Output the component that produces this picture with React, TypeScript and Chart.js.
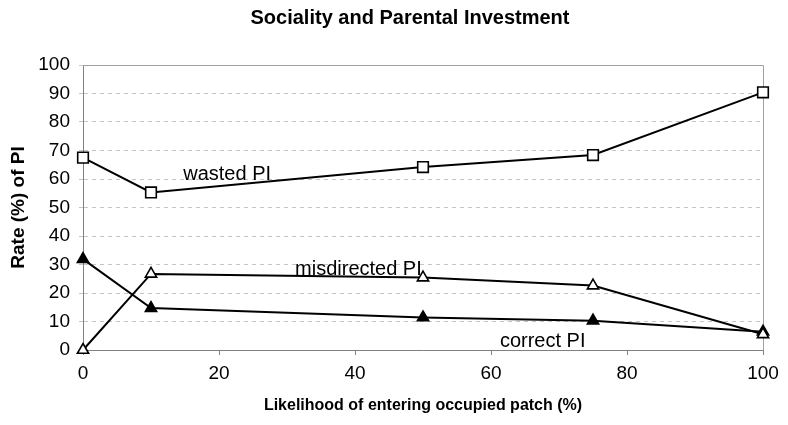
import React, { useEffect, useRef } from "react";
import { Chart, registerables } from "chart.js";

Chart.register(...registerables);

const likelihood = [0, 10, 50, 75, 100];
const wastedPI = [67.5, 55.3, 64.2, 68.4, 90.4];
const misdirectedPI = [0, 26.7, 25.4, 22.6, 5.5];
const correctPI = [31.9, 14.7, 11.4, 10.3, 6.4];

const seriesLabels = ["wasted PI", "misdirected PI", "correct PI"];
// label anchor in data units (x, y) — text baseline centre
const labelX = [21.2, 40.5, 67.6];
const labelY = [59.7, 26.4, 0.9];

const chartTitle = "Sociality and Parental Investment";
const xTitle = "Likelihood of entering occupied patch (%)";
const yTitle = "Rate (%) of PI";

const FONT = '"Liberation Sans", Arial, sans-serif';

function pts(ys: number[]) {
  return likelihood.map((x, i) => ({ x, y: ys[i] }));
}

export default function App() {
  const ref = useRef<HTMLCanvasElement | null>(null);

  useEffect(() => {
    if (!ref.current) return;

    const decor = {
      id: "decor",
      beforeDatasetsDraw(chart: any) {
        const { ctx, chartArea: a } = chart;
        ctx.save();
        ctx.strokeStyle = "#a0a0a0";
        ctx.lineWidth = 1;
        ctx.beginPath();
        ctx.moveTo(a.left, a.top + 0.5);
        ctx.lineTo(a.right + 0.5, a.top + 0.5);
        ctx.lineTo(a.right + 0.5, a.bottom);
        ctx.stroke();
        ctx.restore();
      },
      afterDatasetsDraw(chart: any) {
        const { ctx, scales } = chart;
        ctx.save();
        ctx.fillStyle = "#000";
        ctx.font = `20px ${FONT}`;
        ctx.textAlign = "center";
        ctx.textBaseline = "alphabetic";
        seriesLabels.forEach((t, i) => {
          ctx.fillText(
            t,
            scales.x.getPixelForValue(labelX[i]),
            scales.y.getPixelForValue(labelY[i])
          );
        });
        ctx.font = `bold 20px ${FONT}`;
        ctx.textBaseline = "middle";
        ctx.fillText(chartTitle, 410, 18);
        ctx.restore();
      },
    };

    const chart = new Chart(ref.current, {
      type: "line",
      data: {
        datasets: [
          {
            label: seriesLabels[0],
            data: pts(wastedPI),
            borderColor: "#000",
            borderWidth: 2,
            pointStyle: "rect",
            pointRadius: 7.5,
            pointBackgroundColor: "#fff",
            pointBorderColor: "#000",
            pointBorderWidth: 1.6,
            clip: false as any,
          },
          {
            label: seriesLabels[1],
            data: pts(misdirectedPI),
            borderColor: "#000",
            borderWidth: 2,
            pointStyle: "triangle",
            pointRadius: 6.5,
            pointBackgroundColor: "#fff",
            pointBorderColor: "#000",
            pointBorderWidth: 1.6,
            clip: false as any,
          },
          {
            label: seriesLabels[2],
            data: pts(correctPI),
            borderColor: "#000",
            borderWidth: 2,
            pointStyle: "triangle",
            pointRadius: 6.5,
            pointBackgroundColor: "#000",
            pointBorderColor: "#000",
            pointBorderWidth: 1.6,
            clip: false as any,
          },
        ],
      },
      options: {
        responsive: false,
        animation: false,
        layout: { padding: { top: 65, right: 25, left: 0, bottom: 0 } },
        plugins: {
          legend: { display: false },
          title: { display: false },
          tooltip: { enabled: false },
        },
        scales: {
          x: {
            type: "linear",
            min: 0,
            max: 100,
            afterFit: (s: any) => {
              s.height = 75;
            },
            ticks: {
              stepSize: 20,
              padding: 7,
              color: "#000",
              font: { family: FONT, size: 19 },
              maxRotation: 0,
            },
            grid: {
              drawOnChartArea: false,
              drawTicks: true,
              tickLength: 5,
              tickColor: "#808080",
            },
            border: { color: "#808080", width: 1 },
            title: {
              display: true,
              text: xTitle,
              color: "#000",
              font: { family: FONT, size: 16, weight: "bold" },
              padding: { top: 0, bottom: 10 },
            },
          },
          y: {
            min: 0,
            max: 100,
            afterFit: (s: any) => {
              s.width = 83;
            },
            ticks: {
              stepSize: 10,
              padding: 9,
              color: "#000",
              font: { family: FONT, size: 19 },
            },
            grid: {
              color: "#c4c4c4",
              tickLength: 4,
              tickColor: "#c4c4c4",
            },
            border: { color: "#808080", width: 1, dash: [4, 4] },
            title: {
              display: true,
              text: yTitle,
              color: "#000",
              font: { family: FONT, size: 19, weight: "bold" },
              padding: { top: 7, bottom: 0 },
            },
          },
        },
      },
      plugins: [decor],
    } as any);

    return () => chart.destroy();
  }, []);

  return (
    <div style={{ position: "absolute", left: 0, top: 0, width: 788, height: 425, background: "#fff" }}>
      <canvas ref={ref} width={788} height={425} style={{ display: "block" }} />
    </div>
  );
}
